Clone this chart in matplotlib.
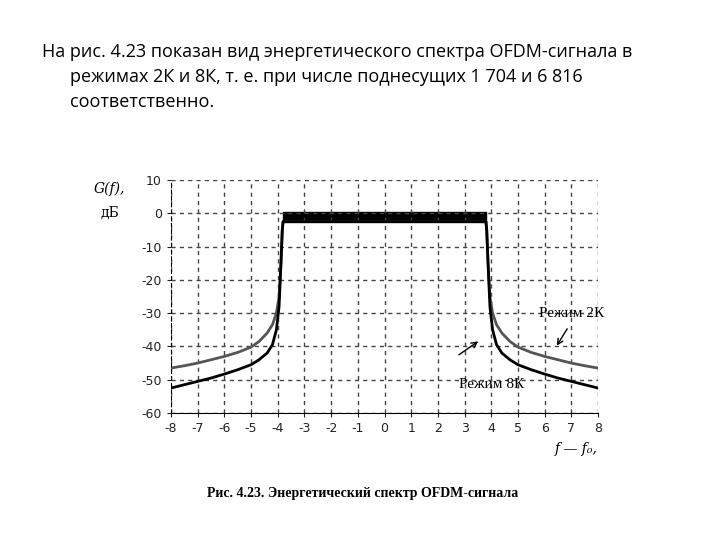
import matplotlib
matplotlib.use('Agg')
import matplotlib.pyplot as plt

plt.rcParams['axes.unicode_minus'] = False

# spectrum data (right half mirrors left)
freq_left = [-8, -7.5, -7, -6.5, -6, -5.5, -5, -4.7, -4.4, -4.2, -4.05, -3.95, -3.88, -3.83, -3.8]
g2k_left = [-46.5, -45.8, -45, -44, -43, -41.8, -40.2, -38.5, -36, -33.5, -30, -25, -15, -5, -2.5]
g8k_left = [-52.5, -51.5, -50.5, -49.5, -48.3, -47, -45.5, -44, -42, -39.5, -35, -28, -15, -5, -2.5]
band_lo, band_hi = -2.5, 0.5

x_ticks = list(range(-8, 9))
y_ticks = list(range(-60, 11, 10))

freq = freq_left + [-f for f in freq_left[::-1]]
g2k = g2k_left + g2k_left[::-1]
g8k = g8k_left + g8k_left[::-1]

fig = plt.figure(figsize=(7.2, 5.4), dpi=100)
fig.patch.set_facecolor('white')

fig.text(42/720, 1-52/540, 'На рис. 4.23 показан вид энергетического спектра OFDM-сигнала в',
         fontsize=13, family='Open Sans', va='center')
fig.text(70/720, 1-77/540, 'режимах 2К и 8К, т. е. при числе поднесущих 1 704 и 6 816',
         fontsize=13, family='Open Sans', va='center')
fig.text(70/720, 1-102/540, 'соответственно.',
         fontsize=13, family='Open Sans', va='center')

ax = fig.add_axes([171/720, 1-413/540, 427/720, 233/540])
ax.plot(freq, g2k, color='#555555', lw=2, solid_joinstyle='round')
ax.plot(freq, g8k, color='black', lw=2, solid_joinstyle='round')
ax.fill_between([-3.8, 3.8], band_lo, band_hi, color='black')
ax.set_xlim(-8, 8)
ax.set_ylim(-60, 10)
ax.set_xticks(x_ticks)
ax.set_yticks(y_ticks)
ax.tick_params(labelsize=9, length=3, colors='#222222')
ax.grid(True, ls=(0, (3, 3)), color='#444444', lw=1)
for s in ['top', 'right']:
    ax.spines[s].set_visible(False)
ax.spines['left'].set_linestyle((0, (3, 3)))

ax.text(-10.3, 6, 'G(f),', fontsize=10, family='DejaVu Serif', style='italic', ha='center')
ax.text(-10.3, -1, 'дБ', fontsize=10, family='DejaVu Serif', ha='center')
ax.text(7.0, -30, 'Режим 2К', fontsize=11, family='Liberation Serif', ha='center', va='center')
ax.annotate('', xy=(6.4, -40.5), xytext=(6.9, -34),
            arrowprops=dict(arrowstyle='->', lw=1))
ax.text(4.0, -51.5, 'Режим 8К', fontsize=11, family='Liberation Serif', ha='center', va='center')
ax.annotate('', xy=(3.6, -38), xytext=(2.7, -43),
            arrowprops=dict(arrowstyle='->', lw=1))
ax.text(7.2, -72, 'f — f₀,', fontsize=10, family='DejaVu Serif', style='italic', ha='center')

fig.text(363/720, 1-493/540, 'Рис. 4.23. Энергетический спектр OFDM-сигнала',
         fontsize=10, family='Liberation Serif', weight='bold', ha='center', va='center')

fig.savefig('out.png', dpi=100)
